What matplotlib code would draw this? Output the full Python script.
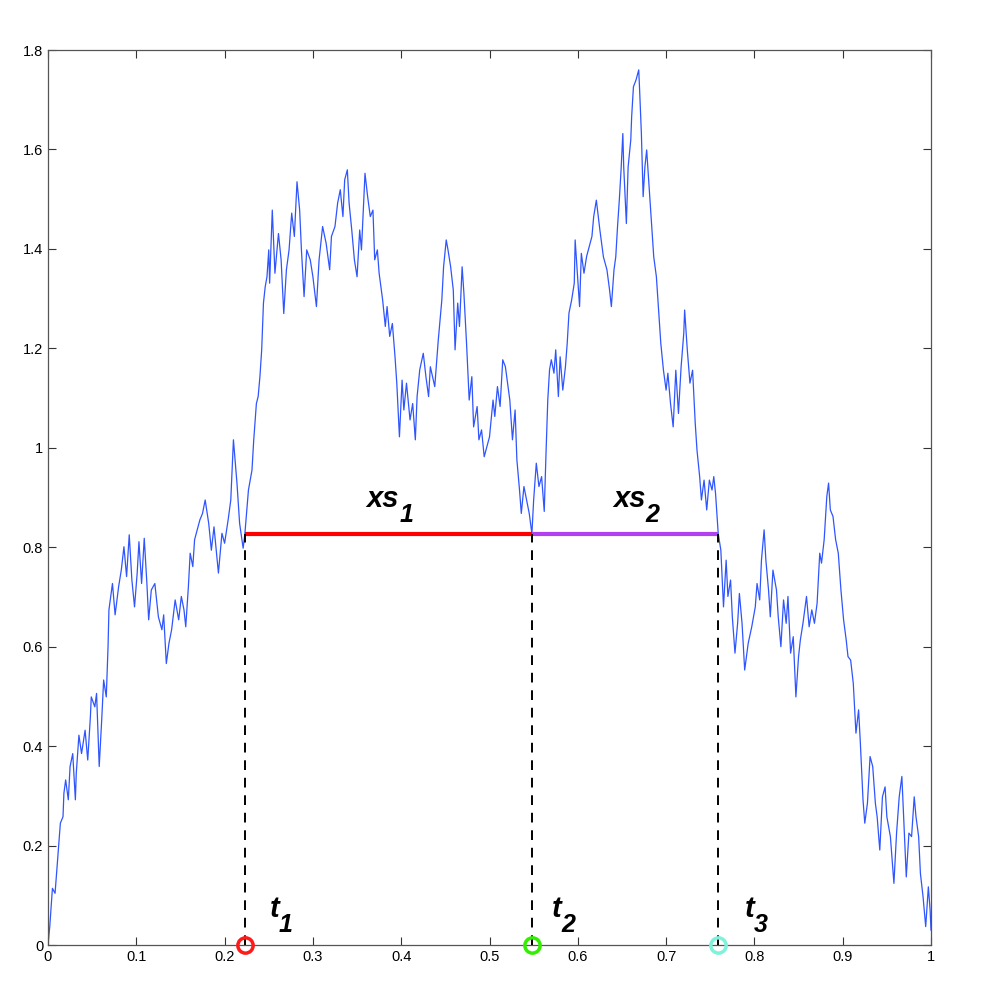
import numpy as np
import matplotlib
matplotlib.use("Agg")
import matplotlib.pyplot as plt
from matplotlib.ticker import FormatStrFormatter

plt.rcParams['font.family'] = ['Liberation Sans', 'DejaVu Sans']

# path values (time, value)
t = [0, .002, .005, .008, .010, .012, .014, .017, .018, .020, .023, .025, .028, .031, .032,
     .035, .038, .042, .045, .048, .049, .053, .055, .058, .061, .063, .066, .068, .069, .073,
     .076, .080, .083, .086, .089, .092, .095, .098, .101, .103, .106, .109, .112, .114, .117,
     .121, .125, .129, .131, .134, .137, .140, .144, .148, .151, .154, .156, .159, .161, .164,
     .166, .169, .172, .175, .178, .182, .185, .188, .193, .197, .200, .204, .207,
     .210, .214, .217, .221, .223, .227, .231, .233, .236, .238, .240, .242, .244, .246, .248,
     .250, .251, .254, .257, .261, .264, .267, .270, .273, .276, .279, .282, .285, .287, .290,
     .293, .297, .300, .304, .307, .311, .315, .319, .321, .325, .328, .331, .334, .336, .339,
     .341, .344, .347, .350, .353, .355, .359, .362, .365, .368, .370, .373, .375, .379, .382,
     .384, .387, .390, .393, .395, .398, .401, .403, .406, .410, .413, .416, .418, .421, .425,
     .428, .431,
     .433, .438, .442, .446, .448, .451, .453, .456, .459, .461, .464, .466, .469, .471, .474,
     .477, .480, .482, .486, .488, .491, .494, .497, .500, .504, .506, .509, .512, .515, .518,
     .520, .523, .526, .529, .531, .534, .536, .539, .542, .545, .548, .550, .553, .556, .559,
     .562, .564, .566, .568, .570, .573, .575, .578, .580, .583, .586, .588, .590, .593, .596,
     .597, .599, .602, .604, .607, .610, .613, .616, .618, .621,
     .625, .629, .633, .636, .638, .641, .643, .645, .647, .649, .651, .652, .655, .657, .660,
     .661, .663, .666, .669, .670, .672, .674, .676, .678, .680, .682, .684, .686, .689, .691,
     .694, .697, .700, .702, .705, .708, .711, .714, .717, .720, .721, .724, .727, .730, .733,
     .735, .738, .740, .743, .746, .749, .752, .754, .756, .759,
     .762, .765, .768, .770, .773, .775, .778, .781, .783, .786, .789, .793, .797, .801, .803,
     .806, .808, .811, .813, .816, .818, .821, .825, .827, .830, .833, .836, .838, .841, .844,
     .847, .850, .852, .855, .859, .862, .865, .868, .871, .874, .876, .879, .882, .884, .886,
     .889, .892, .895, .898, .901, .904, .906, .909, .912, .915, .918, .920, .923, .925, .928,
     .931, .934, .937, .939, .942, .945, .948, .950, .954, .956, .958, .961, .964, .967, .969,
     .972, .975, .978, .981, .983, .986, .988, .991, .994, .997, .999, 1.0]

B = [0, .037, .114, .104, .151, .198, .245, .258, .305, .332, .292, .359, .385, .292, .345,
     .422, .385, .432, .372, .459, .499, .479, .506, .359, .459, .533, .499, .600, .674, .727,
     .664, .721, .754, .801, .741, .825, .734, .680, .748, .811, .727, .818, .727, .654, .714,
     .727, .660, .634, .664, .566, .607, .634, .694, .654, .701, .674, .640, .721, .788, .761,
     .815, .835, .855, .868, .895, .848, .794, .841, .748, .828, .808, .855, .895,
     1.016, .929, .848, .798, .828, .915, .955, 1.016, 1.089, 1.103, 1.143, 1.197, 1.291, 1.324, 1.344,
     1.398, 1.331, 1.478, 1.351, 1.431, 1.378, 1.270, 1.358, 1.398, 1.472, 1.425, 1.535, 1.478, 1.398, 1.304,
     1.398, 1.378, 1.344, 1.284, 1.378, 1.445, 1.411, 1.358, 1.425, 1.445, 1.492, 1.519, 1.465, 1.539, 1.559,
     1.492, 1.438, 1.378, 1.344, 1.438, 1.398, 1.552, 1.505, 1.465, 1.478, 1.378, 1.398, 1.351, 1.297, 1.244,
     1.284, 1.224, 1.250, 1.183, 1.130, 1.022, 1.136, 1.076, 1.130, 1.056, 1.089, 1.016, 1.103, 1.157, 1.190,
     1.143, 1.103,
     1.163, 1.123, 1.217, 1.297, 1.364, 1.418, 1.398, 1.364, 1.317, 1.197, 1.291, 1.244, 1.364, 1.311, 1.210,
     1.096, 1.143, 1.042, 1.083, 1.016, 1.036, .982, 1.002, 1.022, 1.096, 1.063, 1.123, 1.083, 1.177, 1.163,
     1.136, 1.096, 1.016, 1.076, .976, .915, .868, .922, .895, .868, .827, .895, .969, .922, .942,
     .872, .989, 1.096, 1.157, 1.177, 1.150, 1.197, 1.103, 1.183, 1.116, 1.163, 1.210, 1.271, 1.297, 1.331,
     1.418, 1.364, 1.284, 1.391, 1.351, 1.385, 1.405, 1.425, 1.465, 1.498,
     1.438, 1.384, 1.358, 1.317, 1.284, 1.358, 1.384, 1.445, 1.498, 1.559, 1.632, 1.565, 1.451, 1.565, 1.619,
     1.666, 1.726, 1.740, 1.760, 1.720, 1.632, 1.505, 1.565, 1.599, 1.545, 1.492, 1.438, 1.384, 1.344, 1.290,
     1.210, 1.156, 1.116, 1.150, 1.089, 1.042, 1.156, 1.069, 1.163, 1.230, 1.277, 1.197, 1.130, 1.156, 1.049,
     .995, .942, .895, .935, .875, .935, .915, .942, .908, .828,
     .794, .680, .774, .701, .734, .660, .587, .647, .707, .647, .553, .607, .640, .680, .727,
     .694, .774, .835, .774, .714, .660, .754, .714, .660, .600, .694, .647, .701, .587, .620,
     .499, .580, .613, .647, .701, .640, .674, .647, .687, .788, .768, .815, .902, .929, .875,
     .862, .815, .788, .714, .654, .613, .580, .573, .526, .426, .473, .406, .292, .245, .285,
     .379, .359, .285, .258, .191, .298, .318, .258, .218, .171, .124, .225, .298, .339, .258,
     .137, .225, .218, .298, .258, .218, .144, .097, .037, .117, .070, .03]

level = 0.827
hit_times = [0.223, 0.548, 0.759]
hit_colors = ['#ff1a1a', '#33ee00', '#80f2dc']
seg_colors = ['#ff0000', '#b040f0']

# label anchors (left, baseline) in data units
t_label_x = [0.251, 0.571, 0.789]
t_label_y = 0.056
xs_label_x = [0.361, 0.640]
xs_label_y = 0.881

assert len(t) == len(B)

fig = plt.figure(figsize=(9.81, 9.96), dpi=100)
ax = fig.add_axes([48/981, 51/996, 883/981, 895/996])

ax.plot(t, B, color='#2f55ff', linewidth=0.9, zorder=2)

lab_kw = dict(fontsize=21, fontweight='bold', fontstyle='italic', ha='left', va='baseline')
sub_kw = dict(fontsize=18, fontweight='bold', fontstyle='italic', ha='left', va='baseline',
              textcoords='offset points')


def sub_label(x, y, base, sub, dx, dy):
    ax.text(x, y, base, **lab_kw)
    ax.annotate(sub, (x, y), xytext=(dx, dy), **sub_kw)


# segments between hitting times
for i in range(2):
    ax.plot([hit_times[i], hit_times[i+1]], [level, level], color=seg_colors[i],
            linewidth=3, zorder=3, solid_capstyle='butt')
    sub_label(xs_label_x[i], xs_label_y, 'xs', str(i + 1), 23.5, -10.8)

for i, (ht, c) in enumerate(zip(hit_times, hit_colors)):
    ax.plot([ht, ht], [0, level], color='black', linestyle=(0, (5, 4)), linewidth=1.4, zorder=3)
    ax.plot(ht, 0, 'o', markersize=11, markerfacecolor='none', markeredgecolor=c,
            markeredgewidth=2.5, clip_on=False, zorder=5)
    sub_label(t_label_x[i], t_label_y, 't', str(i + 1), 6.5, -10.8)

ax.set_xlim(0, 1)
ax.set_ylim(0, 1.8)
ax.set_xticks(np.arange(0, 1.01, 0.1))
ax.set_yticks(np.arange(0, 1.81, 0.2))
ax.xaxis.set_major_formatter(FormatStrFormatter('%g'))
ax.yaxis.set_major_formatter(FormatStrFormatter('%g'))
ax.tick_params(direction='in', length=6, width=0.8, colors='#333333', labelsize=10.5,
               top=True, right=True, labelcolor='black')
for s in ax.spines.values():
    s.set_color('#555555')
    s.set_linewidth(0.9)

fig.savefig('out.png', dpi=100)
